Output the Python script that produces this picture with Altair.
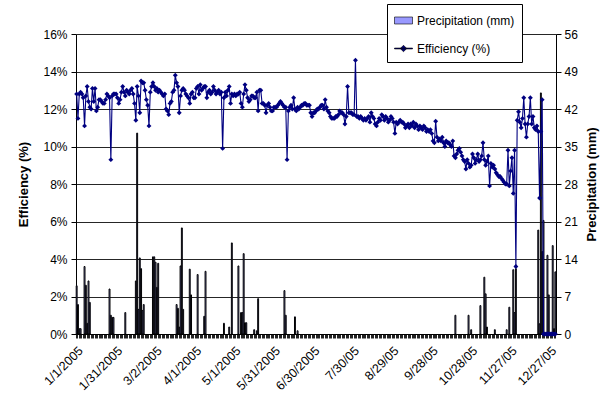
import altair as alt
import pandas as pd

tick_labels = ["1/1/2005", "1/31/2005", "3/2/2005", "4/1/2005", "5/1/2005", "5/31/2005",
               "6/30/2005", "7/30/05", "8/29/05", "9/28/05", "10/28/05", "11/27/05", "12/27/05"]

eff_jan = [12.8, 11.5, 12.8, 12.9, 12.8, 12.6, 11.1, 12.7, 13.2, 12.4, 12.1, 12.0, 13.1, 12.4, 13.1, 11.9,
           12.1, 12.5, 12.5, 12.4, 12.3, 12.3, 12.5, 12.8, 12.7, 12.6, 9.3, 12.7, 12.8, 12.8, 12.8]
eff_feb = [12.6, 12.3, 12.5, 12.9, 13.2, 12.9, 12.7, 13.0, 12.9, 12.8, 13.0, 13.1, 12.8, 12.3, 11.4, 13.2,
           12.7, 11.8, 13.5, 13.4, 13.4, 13.0, 12.5, 12.2, 11.1, 12.9, 13.2, 13.4]
eff_mar = [13.2, 13.0, 13.1, 12.9, 13.0, 12.9, 12.8, 12.7, 12.8, 12.0, 11.9, 11.7, 12.3, 12.4, 12.9, 13.0,
           13.8, 13.4, 13.2, 11.8, 12.7, 13.0, 13.1, 13.0, 12.8, 12.7, 12.6, 12.3, 12.8, 12.9, 12.6]
eff_apr = [12.6, 13.1, 13.2, 12.8, 13.3, 13.0, 13.1, 13.2, 13.2, 12.6, 12.9, 13.0, 12.8, 12.9, 13.2, 13.0,
           12.8, 12.9, 13.0, 12.8, 12.9, 9.9, 12.6, 12.9, 12.7, 13.0, 13.2, 12.3, 12.8, 12.7]
eff_may = [12.8, 12.7, 12.8, 12.8, 12.9, 12.3, 12.1, 12.8, 13.3, 13.0, 12.6, 12.4, 12.5, 12.7, 12.7, 12.6,
           12.6, 12.9, 11.9, 13.0, 13.0, 12.3, 12.3, 12.2, 11.8, 12.2, 12.3, 12.1, 11.9, 11.9, 12.1]
eff_jun = [12.1, 12.1, 12.2, 12.3, 12.4, 12.3, 12.2, 12.1, 12.1, 9.3, 11.9, 12.1, 12.2, 12.0, 12.6, 12.0,
           11.9, 12.1, 12.0, 12.1, 12.2, 12.2, 12.3, 12.3, 12.2, 12.2, 12.2, 11.8, 11.6, 11.8]
eff_jul = [11.8, 11.9, 12.0, 12.0, 12.1, 12.2, 12.2, 12.0, 12.5, 12.1, 11.9, 11.8, 11.6, 11.5, 11.5, 11.5,
           11.6, 11.6, 11.7, 11.9, 11.8, 11.8, 11.7, 11.2, 11.6, 13.2, 11.8, 11.8, 11.8, 11.7, 11.7]
eff_aug = [14.6, 11.6, 11.6, 11.5, 11.6, 11.5, 11.4, 11.5, 11.4, 11.5, 11.6, 11.3, 11.8, 11.6, 11.5, 11.2,
           11.1, 11.3, 11.5, 11.4, 11.7, 11.6, 11.4, 11.6, 11.5, 11.3, 11.4, 11.6, 11.5, 11.3, 10.7]
eff_sep = [11.3, 11.2, 11.3, 11.4, 11.3, 11.3, 11.2, 11.0, 11.1, 11.2, 11.0, 11.2, 11.1, 11.3, 11.0, 11.2,
           11.1, 10.9, 11.1, 11.0, 10.9, 11.1, 11.0, 10.8, 10.9, 10.8, 10.9, 10.7, 10.3, 10.2]
eff_oct = [11.35, 10.5, 10.3, 10.4, 10.3, 10.5, 10.2, 10.0, 10.3, 10.2, 10.2, 10.1, 10.0, 10.3, 9.5, 9.4,
           9.6, 9.8, 9.9, 9.7, 9.5, 9.3, 9.2, 8.8, 9.3, 9.1, 8.9, 9.0, 9.6, 9.4, 9.1]
eff_nov = [9.3, 9.6, 9.2, 9.3, 9.5, 10.2, 9.3, 9.0, 9.2, 9.5, 7.9, 9.1, 8.9, 9.0, 8.8, 8.6,
           8.5, 8.4, 8.4, 8.3, 8.2, 8.1, 8.0, 8.0, 9.8, 7.9, 8.7, 9.4, 7.5, 9.8]
eff_dec = [3.6, 11.4, 11.85, 11.3, 11.0, 11.5, 12.6, 11.2, 10.5, 11.2, 11.6, 12.6, 11.2, 11.6, 11.0, 10.9,
           11.1, 10.8, 7.25, 10.8, 12.5, 0, 0, 0, 0, 0, 0, 0, 0, 0, 0]

# rain days (day-of-year index, 0 = Jan 1) and amounts in mm
rain_day = [0, 1, 2, 3, 6, 7, 8, 9, 10, 25, 26, 27, 28, 37, 45, 46, 47, 48, 49, 50, 51,
            58, 59, 60, 61, 62, 76, 77, 78, 79, 80, 81, 86, 87, 92, 97, 98, 112, 116,
            118, 123, 125, 126, 127, 128, 129, 135, 137, 138, 158, 159, 166, 168,
            288, 298, 300, 307, 310, 311, 312, 318, 327, 329, 332, 333, 334,
            351, 352, 353, 354, 355, 358, 359, 362, 363, 364]
rain_mm = [9.0, 5.5, 1.0, 1.0, 12.6, 9.1, 2.0, 9.9, 5.9, 8.4, 3.5, 3.1, 3.1, 4.0, 9.9, 37.5, 4.6, 14.2, 12.2, 4.4, 5.5,
           14.4, 14.4, 13.4, 8.7, 13.2, 5.5, 4.8, 1.3, 12.7, 19.8, 4.6, 12.1, 7.3, 11.1, 3.3, 11.7, 2.0, 1.3,
           17.0, 12.7, 4.0, 4.0, 15.0, 2.1, 2.1, 0.8, 0.6, 6.6, 8.1, 3.5, 3.2, 0.6,
           3.5, 3.5, 0.8, 5.3, 10.6, 7.5, 1.3, 0.8, 0.8, 5.0, 12.0, 4.0, 12.2,
           19.4, 1.9, 45.0, 15.4, 21.2, 14.7, 7.3, 16.5, 1.0, 11.6]

series_names = ["Precipitation (mm)", "Efficiency (%)"]
series_colors = ["#9999FF", "#000080"]

efficiency = (eff_jan + eff_feb + eff_mar + eff_apr + eff_may + eff_jun +
              eff_jul + eff_aug + eff_sep + eff_oct + eff_nov + eff_dec)
days = list(range(len(efficiency)))

eff_df = pd.DataFrame({"day": days, "eff": efficiency})
bar_df = pd.DataFrame({"day": rain_day, "mm": rain_mm})
leg_df = pd.DataFrame({"series": series_names})

FONT = "Liberation Sans"

label_arr = "[" + ",".join("'%s'" % t for t in tick_labels) + "]"
x_enc = alt.X(
    "day:O",
    scale=alt.Scale(domain=days, paddingInner=0.3, paddingOuter=0.15),
    axis=alt.Axis(
        title=None,
        labelExpr="datum.value % 30 === 0 ? " + label_arr + "[datum.value / 30] : ''",
        labelAngle=-45,
        labelOverlap=False,
        labelPadding=6,
        labelFontSize=12.5,
        tickSize=4,
        tickColor="#222222",
        tickWidth=1,
        domainColor="black",
        grid=False,
    ),
)

y_eff = alt.Y(
    "eff:Q",
    scale=alt.Scale(domain=[0, 16], nice=False, zero=True),
    axis=alt.Axis(
        orient="left",
        values=[0, 2, 4, 6, 8, 10, 12, 14, 16],
        labelExpr="datum.value + '%'",
        title="Efficiency (%)",
        titlePadding=12,
        grid=True,
        gridColor="black",
        gridWidth=1,
        gridOpacity=0.85,
        tickSize=5,
        labelPadding=4,
    ),
)

y_pr = alt.Y(
    "mm:Q",
    scale=alt.Scale(domain=[0, 56], nice=False, zero=True),
    axis=alt.Axis(
        orient="right",
        values=[0, 7, 14, 21, 28, 35, 42, 49, 56],
        title="Precipitation (mm)",
        titleAngle=270,
        titleX=35,
        titleY=150,
        titleAlign="center",
        titleBaseline="middle",
        grid=False,
        tickSize=5,
        labelPadding=3,
    ),
)

bars = alt.Chart(bar_df).mark_bar(
    color="#9999FF", stroke="black", strokeWidth=1
).encode(x=x_enc, y=y_pr)

line = alt.Chart(eff_df).mark_line(color="#000080", strokeWidth=1.1).encode(x=x_enc, y=y_eff)
pts = alt.Chart(eff_df).mark_point(
    shape="diamond", filled=True, size=24, color="#000080", opacity=1
).encode(x=x_enc, y=y_eff)

rect_path = "M-1,-0.39H1V0.39H-1Z"
line_path = "M-1,-0.05H1V0.05H-1Z M0,-0.36L0.36,0L0,0.36L-0.36,0Z"
legend_props = dict(
    title=None,
    orient="none",
    legendX=311,
    legendY=-30,
    direction="vertical",
    symbolSize=324,
    symbolStrokeColor="black",
    symbolStrokeWidth=0.6,
    labelFontSize=12,
    labelFont=FONT,
    labelColor="black",
    labelOffset=4,
    rowPadding=12,
    padding=7,
    strokeColor="black",
    fillColor="white",
    cornerRadius=0,
)
leg = alt.Chart(leg_df).mark_point(filled=True, opacity=1).encode(
    color=alt.Color("series:N", scale=alt.Scale(domain=series_names, range=series_colors),
                    legend=alt.Legend(**legend_props)),
    shape=alt.Shape("series:N", scale=alt.Scale(domain=series_names, range=[rect_path, line_path]),
                    legend=alt.Legend(**legend_props)),
).transform_filter("false")

eff_layer = alt.layer(line, pts, leg)

chart = alt.layer(bars, eff_layer).resolve_scale(y="independent").properties(
    width=480,
    height=300,
    autosize=alt.AutoSizeParams(type="none"),
    padding={"left": 76, "top": 34, "right": 54, "bottom": 62},
    background="white",
).configure_axis(
    labelFont=FONT,
    titleFont=FONT,
    labelFontSize=12,
    titleFontSize=13,
    titleFontWeight="bold",
    labelColor="black",
    titleColor="black",
    domainColor="black",
    tickColor="black",
).configure_view(stroke=None)

chart.save("out.html", embed_options={"renderer": "svg", "actions": False})
